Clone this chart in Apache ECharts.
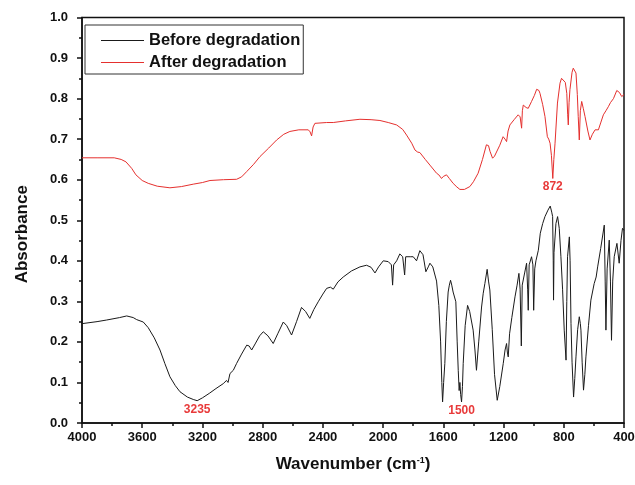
<!DOCTYPE html>
<html>
<head>
<meta charset="utf-8">
<script src="https://cdn.jsdelivr.net/npm/echarts@6/dist/echarts.min.js"></script>
<style>html,body{margin:0;padding:0;background:#fff}#c{width:635px;height:485px}</style>
</head>
<body>
<div id="c"></div>
<script>
// Wavenumber (cm-1) and absorbance, before degradation
var wnBefore = [4000,3900,3836,3750,3703,3660,3637,3593,3560,3520,3482,3450,3416,3380,3349,3300,3261,3235,3200,3155,3110,3062,3040,3030,3017,2995,2973,2940,2906,2890,2873,2850,2820,2796,2765,2730,2700,2663,2640,2608,2575,2542,2515,2487,2460,2431,2400,2375,2350,2331,2300,2265,2210,2154,2110,2080,2054,2030,1999,1966,1945,1937,1930,1910,1889,1870,1857,1850,1820,1800,1778,1756,1735,1716,1700,1689,1670,1645,1630,1618,1610,1605,1598,1590,1580,1568,1560,1552,1544,1535,1517,1508,1501,1495,1490,1485,1479,1473,1468,1455,1439,1425,1402,1390,1380,1365,1346,1335,1324,1315,1309,1300,1291,1275,1260,1242,1225,1202,1190,1180,1175,1169,1160,1145,1124,1110,1098,1090,1082,1076,1069,1060,1047,1040,1036,1030,1014,1005,1000,993,985,969,956,940,925,905,890,880,874,870,868,865,852,841,830,819,808,797,785,780,775,763,758,752,745,735,727,719,708,697,690,686,678,669,660,653,636,620,598,585,575,555,531,525,520,512,498,490,483,475,465,447,432,420,410,400];
var absBefore = [0.245,0.250,0.254,0.260,0.264,0.260,0.255,0.249,0.235,0.210,0.180,0.147,0.114,0.092,0.077,0.064,0.058,0.055,0.062,0.073,0.085,0.097,0.105,0.100,0.122,0.130,0.147,0.170,0.192,0.190,0.180,0.195,0.215,0.225,0.215,0.196,0.220,0.249,0.240,0.217,0.250,0.285,0.275,0.258,0.280,0.299,0.318,0.332,0.335,0.330,0.348,0.360,0.375,0.385,0.389,0.384,0.370,0.385,0.400,0.398,0.390,0.340,0.390,0.400,0.417,0.410,0.365,0.410,0.410,0.410,0.400,0.425,0.415,0.373,0.385,0.394,0.385,0.350,0.290,0.200,0.100,0.052,0.100,0.147,0.250,0.323,0.340,0.352,0.340,0.323,0.299,0.200,0.130,0.080,0.100,0.070,0.052,0.090,0.147,0.240,0.290,0.275,0.229,0.180,0.130,0.200,0.286,0.320,0.344,0.365,0.379,0.350,0.328,0.230,0.120,0.056,0.090,0.147,0.180,0.196,0.175,0.163,0.220,0.260,0.311,0.340,0.369,0.330,0.190,0.340,0.344,0.370,0.394,0.330,0.278,0.390,0.410,0.390,0.278,0.380,0.400,0.426,0.468,0.492,0.509,0.525,0.535,0.520,0.509,0.400,0.303,0.420,0.492,0.509,0.480,0.410,0.330,0.229,0.155,0.300,0.410,0.459,0.400,0.245,0.150,0.064,0.110,0.163,0.230,0.262,0.245,0.229,0.150,0.081,0.120,0.163,0.240,0.303,0.344,0.360,0.385,0.430,0.488,0.350,0.229,0.380,0.451,0.350,0.204,0.350,0.410,0.443,0.394,0.450,0.480,0.475];

// Wavenumber (cm-1) and absorbance, after degradation
var wnAfter = [4000,3900,3786,3740,3708,3670,3642,3600,3560,3500,3416,3340,3261,3200,3150,3060,2973,2940,2906,2860,2818,2760,2707,2660,2619,2560,2497,2485,2475,2465,2453,2375,2331,2250,2154,2080,2021,1966,1910,1870,1844,1810,1788,1770,1756,1720,1689,1645,1630,1612,1600,1590,1579,1560,1535,1510,1490,1460,1424,1400,1369,1340,1314,1300,1290,1273,1260,1247,1225,1203,1190,1180,1170,1158,1130,1103,1090,1080,1075,1069,1050,1036,1014,995,980,965,958,940,925,909,900,891,882,873,866,858,842,825,815,803,790,780,774,770,765,759,745,737,728,719,710,704,697,690,681,670,659,640,626,610,592,570,555,537,520,504,490,470,448,430,415,400];
var absAfter = [0.654,0.654,0.654,0.650,0.644,0.628,0.612,0.598,0.591,0.584,0.580,0.583,0.589,0.593,0.598,0.600,0.601,0.607,0.620,0.638,0.657,0.678,0.698,0.712,0.719,0.723,0.723,0.718,0.708,0.730,0.739,0.741,0.741,0.745,0.749,0.748,0.746,0.741,0.735,0.724,0.710,0.690,0.673,0.668,0.667,0.650,0.636,0.616,0.612,0.603,0.608,0.611,0.612,0.603,0.591,0.582,0.576,0.576,0.583,0.595,0.616,0.650,0.686,0.684,0.670,0.653,0.658,0.661,0.685,0.706,0.700,0.694,0.720,0.735,0.748,0.760,0.755,0.727,0.770,0.784,0.778,0.776,0.793,0.808,0.823,0.820,0.813,0.785,0.756,0.706,0.700,0.690,0.660,0.603,0.650,0.690,0.789,0.838,0.850,0.854,0.840,0.813,0.760,0.735,0.790,0.822,0.865,0.875,0.872,0.863,0.810,0.756,0.698,0.770,0.793,0.775,0.756,0.720,0.698,0.712,0.723,0.723,0.740,0.760,0.770,0.780,0.790,0.800,0.820,0.815,0.805,0.810];

// Annotated peaks: [wavenumber, absorbance, label]
var peaksBefore = [[3235, 0.055, '3235'], [1479, 0.052, '1500']];
var peaksAfter = [[873, 0.603, '872']];

var xTicks = [4000,3600,3200,2800,2400,2000,1600,1200,800,400];
var seriesNames = ['Before degradation', 'After degradation'];

function pairs(xs, ys) { return xs.map(function (x, i) { return [x, ys[i]]; }); }
function marks(list) {
  return list.map(function (p) { return { coord: [p[0], p[1]], value: p[2] }; });
}

var FONT = '"Liberation Sans", Arial, sans-serif';
var RED = '#e5302e';
var chart = echarts.init(document.getElementById('c'), null, { renderer: 'canvas' });
var markLabel = {
  show: true, position: 'bottom', distance: 2, color: '#e83a3a', fontFamily: FONT,
  fontWeight: 'bold', fontSize: 12, formatter: function (p) { return p.value; }
};
chart.setOption({
  animation: false,
  backgroundColor: '#fff',
  grid: { left: 82, right: 11, top: 17.5, bottom: 62, show: true, borderColor: '#111', borderWidth: 1.5,
    backgroundColor: 'transparent', outerBoundsMode: 'none', containLabel: false },
  legend: {
    orient: 'vertical', left: 85, top: 25, data: seriesNames,
    icon: 'rect', itemWidth: 43, itemHeight: 1.2, itemGap: 5,
    padding: [7, 3, 3, 16], borderColor: '#333', borderWidth: 1,
    textStyle: { fontFamily: FONT, fontWeight: 'bold', fontSize: 16.5, color: '#111', padding: [0, 0, 0, 0] }
  },
  xAxis: {
    type: 'value', min: 400, max: 4000, interval: 400, inverse: true,
    name: 'Wavenumber (cm{sup|-1})', nameLocation: 'middle', nameGap: 33,
    nameTextStyle: { fontFamily: FONT, fontWeight: 'bold', fontSize: 17, color: '#111',
      rich: { sup: { fontFamily: FONT, fontWeight: 'bold', fontSize: 9, verticalAlign: 'top', padding: [0, 0, 8, 0], color: '#111' } } },
    axisLine: { onZero: false, lineStyle: { color: '#111', width: 1.5 } },
    axisTick: { inside: false, length: 5, lineStyle: { color: '#111', width: 1.5 } },
    minorTick: { show: true, splitNumber: 2, length: 3, lineStyle: { color: '#111', width: 1.5 } },
    splitLine: { show: false },
    axisLabel: { margin: 8, fontFamily: FONT, fontWeight: 'bold', fontSize: 13, color: '#111',
      formatter: function (v) { return xTicks.indexOf(v) >= 0 ? String(v) : ''; } }
  },
  yAxis: {
    type: 'value', min: 0, max: 1, interval: 0.1,
    name: 'Absorbance', nameLocation: 'middle', nameGap: 51, nameRotate: 90,
    nameTextStyle: { fontFamily: FONT, fontWeight: 'bold', fontSize: 17, color: '#111', padding: [0, 28, 0, 0] },
    axisLine: { onZero: false, lineStyle: { color: '#111', width: 1.5 } },
    axisTick: { inside: false, length: 5, lineStyle: { color: '#111', width: 1.5 } },
    minorTick: { show: true, splitNumber: 2, length: 3, lineStyle: { color: '#111', width: 1.5 } },
    splitLine: { show: false },
    axisLabel: { margin: 14, fontFamily: FONT, fontWeight: 'bold', fontSize: 13, color: '#111',
      formatter: function (v) { return v.toFixed(1); } }
  },
  series: [
    {
      name: seriesNames[0], type: 'line', data: pairs(wnBefore, absBefore), symbol: 'none',
      lineStyle: { color: '#1a1a1a', width: 1 }, itemStyle: { color: '#1a1a1a' },
      markPoint: { symbol: 'circle', symbolSize: 1, itemStyle: { color: 'rgba(0,0,0,0)' },
        label: markLabel, data: marks(peaksBefore) }
    },
    {
      name: seriesNames[1], type: 'line', data: pairs(wnAfter, absAfter), symbol: 'none',
      lineStyle: { color: RED, width: 1 }, itemStyle: { color: RED },
      markPoint: { symbol: 'circle', symbolSize: 1, itemStyle: { color: 'rgba(0,0,0,0)' },
        label: markLabel, data: marks(peaksAfter) }
    }
  ]
});
</script>
</body>
</html>
